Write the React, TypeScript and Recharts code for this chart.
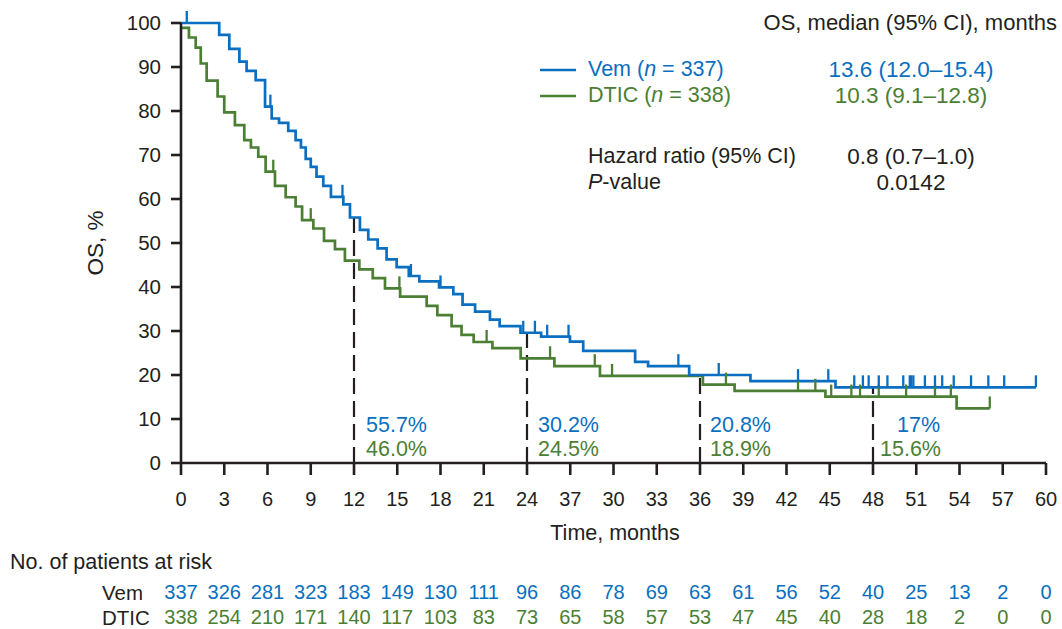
import React from 'react';
import { ComposedChart, Line, Scatter, XAxis, YAxis, ReferenceLine } from 'recharts';

// axis ticks (the original figure prints "37" where 27 belongs)
const xTicks = [0, 3, 6, 9, 12, 15, 18, 21, 24, 27, 30, 33, 36, 39, 42, 45, 48, 51, 54, 57, 60];
const xTickLabels = ['0', '3', '6', '9', '12', '15', '18', '21', '24', '37', '30', '33', '36', '39', '42', '45', '48', '51', '54', '57', '60'];
const yTicks = [0, 10, 20, 30, 40, 50, 60, 70, 80, 90, 100];

// patients at risk, one per x tick
const vemAtRisk = [337, 326, 281, 323, 183, 149, 130, 111, 96, 86, 78, 69, 63, 61, 56, 52, 40, 25, 13, 2, 0];
const dticAtRisk = [338, 254, 210, 171, 140, 117, 103, 83, 73, 65, 58, 57, 53, 47, 45, 40, 28, 18, 2, 0, 0];

// KM steps: [month, OS %]
const vemSteps: [number, number][] = [
  [0, 100], [2.65, 97.3], [3.35, 94.1], [4.05, 91.2], [4.55, 89.1], [5.18, 87.0], [5.83, 81.0],
  [6.29, 78.3], [6.8, 77.3], [7.44, 75.5], [7.95, 73.4], [8.32, 71.7], [8.65, 69.1], [9.0, 67.3],
  [9.4, 65.1], [9.87, 63.0], [10.4, 60.5], [11.26, 58.8], [11.72, 55.8], [12.41, 53.0], [12.99, 50.8],
  [13.64, 48.8], [14.26, 46.3], [14.96, 44.5], [15.8, 42.5], [16.53, 41.3], [17.9, 39.9], [18.89, 38.4],
  [19.53, 36.0], [20.4, 34.4], [21.43, 32.6], [22.1, 31.1], [23.55, 29.6], [24.98, 28.7], [26.98, 27.6],
  [27.9, 25.5], [31.5, 23.0], [32.4, 22.0], [35.25, 20.0], [39.5, 18.6], [45.4, 17.2], [59.3, 17.2],
];
const dticSteps: [number, number][] = [
  [0, 98.9], [0.55, 96.7], [1.02, 94.4], [1.37, 90.8], [1.78, 86.9], [2.54, 83.3], [3.0, 79.7],
  [3.74, 76.8], [4.39, 73.4], [4.85, 71.7], [5.36, 69.6], [5.87, 66.2], [6.52, 63.0], [7.26, 60.4],
  [7.95, 58.3], [8.4, 55.2], [9.18, 53.3], [9.92, 50.5], [10.68, 48.6], [11.37, 46.0], [12.37, 44.0],
  [13.3, 42.0], [14.15, 39.7], [15.2, 37.8], [17.04, 35.7], [17.78, 33.6], [18.77, 31.1], [19.46, 29.1],
  [20.3, 27.5], [21.6, 26.1], [23.56, 23.8], [25.9, 22.0], [29.06, 19.8], [36.2, 17.8], [38.4, 16.4],
  [44.7, 15.1], [53.8, 12.4], [56.1, 12.4],
];

// censoring times (months)
const vemCensored = [0.4, 6.2, 11.2, 15.95, 18.0, 23.74, 24.55, 25.4, 26.88, 34.5, 37.3, 42.8, 44.9,
  46.7, 47.3, 47.7, 48.4, 49.0, 50.1, 50.55, 50.65, 50.8, 51.6, 52.3, 52.8, 53.6, 54.8, 56.0, 57.1, 59.3];
const dticCensored = [6.4, 9.0, 15.15, 21.2, 25.6, 28.7, 29.9, 37.8, 42.8, 44.0, 45.1, 46.5, 47.1, 48.4,
  50.3, 52.3, 53.4, 56.1];

// landmark estimates
const landmarkTimes = [12, 24, 36, 48];
const landmarkVem = ['55.7%', '30.2%', '20.8%', '17%'];
const landmarkDtic = ['46.0%', '24.5%', '18.9%', '15.6%'];

const BLUE = '#0a6fc0';
const GREEN = '#4b7f34';
const INK = '#231f20';
const FONT = '"Liberation Sans", Arial, Helvetica, sans-serif';

const toPoints = (steps: [number, number][]) => steps.map(([t, s]) => ({ t, s }));
const valueAt = (steps: [number, number][], t: number) => {
  let v = steps[0][1];
  for (const [st, s] of steps) if (st <= t) v = s;
  return v;
};

const vemData = toPoints(vemSteps);
const dticData = toPoints(dticSteps);
const vemCensorData = vemCensored.map((t) => ({ t, s: valueAt(vemSteps, t) }));
const dticCensorData = dticCensored.map((t) => ({ t, s: valueAt(dticSteps, t) }));

const censorShape = (color: string) => (props: any) => (
  <line x1={props.cx} y1={props.cy} x2={props.cx} y2={props.cy - 12} stroke={color} strokeWidth={2.3} />
);

const BottomTick = (props: any) => {
  const { x, y, payload } = props;
  const i = xTicks.indexOf(payload.value);
  return (
    <g fontFamily={FONT} fontSize={20} textAnchor="middle" dominantBaseline="central">
      <text x={x} y={y + 24} fill={INK}>{xTickLabels[i]}</text>
      <text x={x} y={y + 117} fill={BLUE}>{vemAtRisk[i]}</text>
      <text x={x} y={y + 142} fill={GREEN}>{dticAtRisk[i]}</text>
    </g>
  );
};

// text offsets from each dashed line
const labelDx = [[12, 12], [11, 11], [10, 10], [24, 7]];

const landmarkLabel = (i: number) => (props: any) => {
  const vb = props.viewBox;
  const bottom = vb.y + vb.height;
  return (
    <g fontFamily={FONT} fontSize={21.5} dominantBaseline="central">
      <text x={vb.x + labelDx[i][0]} y={bottom - 38} fill={BLUE}>{landmarkVem[i]}</text>
      <text x={vb.x + labelDx[i][1]} y={bottom - 14} fill={GREEN}>{landmarkDtic[i]}</text>
    </g>
  );
};

export default function App() {
  return (
    <div style={{ position: 'absolute', left: 0, top: 0, width: 1062, height: 629, background: '#fff', fontFamily: FONT }}>
      <ComposedChart width={1062} height={629} margin={{ top: 23, right: 16, bottom: 126, left: 121 }}>
        <XAxis
          type="number"
          dataKey="t"
          domain={[0, 60]}
          ticks={xTicks}
          interval={0}
          allowDataOverflow
          height={40}
          tickSize={12}
          tickMargin={0}
          axisLine={{ stroke: INK, strokeWidth: 2.6 }}
          tickLine={{ stroke: INK, strokeWidth: 2.6 }}
          tick={<BottomTick />}
        />
        <YAxis
          type="number"
          dataKey="s"
          domain={[0, 100]}
          ticks={yTicks}
          interval={0}
          width={60}
          tickSize={10}
          tickMargin={10}
          axisLine={{ stroke: INK, strokeWidth: 2.6 }}
          tickLine={{ stroke: INK, strokeWidth: 2.6 }}
          tick={{ fill: INK, fontSize: 20.5, fontFamily: FONT }}
        />
        {landmarkTimes.map((t, i) => (
          <ReferenceLine
            key={t}
            segment={[{ x: t, y: 0 }, { x: t, y: valueAt(vemSteps, t) }]}
            stroke={INK}
            strokeWidth={2.2}
            strokeDasharray="16 7"
            label={landmarkLabel(i)}
          />
        ))}
        <Line data={dticData} dataKey="s" type="stepAfter" stroke={GREEN} strokeWidth={2.7} dot={false} activeDot={false} isAnimationActive={false} />
        <Line data={vemData} dataKey="s" type="stepAfter" stroke={BLUE} strokeWidth={2.7} dot={false} activeDot={false} isAnimationActive={false} />
        <Scatter data={dticCensorData} dataKey="s" shape={censorShape(GREEN)} isAnimationActive={false} />
        <Scatter data={vemCensorData} dataKey="s" shape={censorShape(BLUE)} isAnimationActive={false} />
      </ComposedChart>

      <svg width={1062} height={629} style={{ position: 'absolute', left: 0, top: 0, pointerEvents: 'none' }}>
        <g fontFamily={FONT} fontSize={21.5} dominantBaseline="central" fill={INK}>
          <text x={1057} y={22} textAnchor="end" fontSize={22}>OS, median (95% CI), months</text>

          <line x1={540} x2={576} y1={70} y2={70} stroke={BLUE} strokeWidth={2.7} />
          <text x={588} y={69} fill={BLUE}>Vem (<tspan fontStyle="italic">n</tspan> = 337)</text>
          <text x={911} y={69} fill={BLUE} textAnchor="middle" fontSize={22.5}>13.6 (12.0–15.4)</text>

          <line x1={540} x2={576} y1={96} y2={96} stroke={GREEN} strokeWidth={2.7} />
          <text x={588} y={95} fill={GREEN}>DTIC (<tspan fontStyle="italic">n</tspan> = 338)</text>
          <text x={911} y={95} fill={GREEN} textAnchor="middle" fontSize={22.5}>10.3 (9.1–12.8)</text>

          <text x={588} y={156}>Hazard ratio (95% CI)</text>
          <text x={911} y={156} textAnchor="middle" fontSize={22.5}>0.8 (0.7–1.0)</text>
          <text x={588} y={182}><tspan fontStyle="italic">P</tspan>-value</text>
          <text x={911} y={182} textAnchor="middle" fontSize={22.5}>0.0142</text>

          <text x={615} y={533} textAnchor="middle">Time, months</text>
          <text x={95} y={243} textAnchor="middle" fontSize={22.5} transform="rotate(-90 95 243)">OS, %</text>

          <text x={10} y={562}>No. of patients at risk</text>
          <text x={102} y={592} fontSize={20.5}>Vem</text>
          <text x={102} y={617} fontSize={20.5}>DTIC</text>
        </g>
      </svg>
    </div>
  );
}
